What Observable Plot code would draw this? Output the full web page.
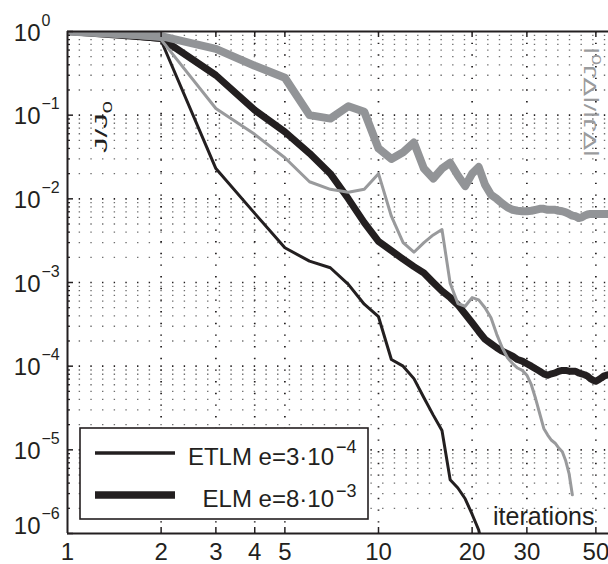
<!DOCTYPE html>
<html><head><meta charset="utf-8">
<script src="https://cdn.jsdelivr.net/npm/d3@7"></script>
<script src="https://cdn.jsdelivr.net/npm/@observablehq/plot@0.6"></script>
<style>body{margin:0;background:#fff} svg{display:block}</style>
</head><body><div id="chart"></div>
<script>
// ---- data ----
const iterations = [1,2,3,4,5,6,7,8,9,10,11,12,13,14,15,16,17,18,19,20,21,22,23,24,25,26,27,28,29,30,31,32,33,34,35,36,37,38,39,40,41,42,43,44,45,46,47,48,49,50,51,52,53,54,55];
// ETLM  J/J0 (thin black)
const etlmJ = [1, 0.78, 0.023, 0.0067, 0.0026, 0.0018, 0.0015, 0.00095, 0.00055, 0.00039, 0.00012, 0.0001, 0.000071, 0.000042, 0.000026, 0.000017, 0.0000044, 0.0000035, 0.0000026, 0.0000017, 0.0000011, 0.0000005];
// ELM  J/J0 (thick black)
const elmJ = [1, 0.83, 0.30, 0.115, 0.063, 0.035, 0.020, 0.010, 0.0052, 0.0031, 0.0024, 0.0019, 0.00155, 0.0013, 0.0010, 0.00079, 0.00066, 0.00054, 0.00042, 0.00033, 0.00026, 0.00021, 0.000186, 0.000166, 0.000151, 0.000141, 0.000132, 0.00012, 0.000115, 0.000107, 0.0001, 0.000093, 0.000087, 0.000081, 0.000078, 0.000081, 0.000083, 0.000087, 0.000089, 0.000089, 0.000087, 0.000087, 0.000087, 0.000083, 0.000081, 0.000079, 0.000076, 0.000071, 0.000068, 0.000066, 0.000069, 0.000072, 0.000076, 0.000078, 0.000079];
// ETLM |gradJ|/|gradJ0| (thin gray)
const etlmGrad = [1, 0.80, 0.12, 0.059, 0.031, 0.016, 0.013, 0.012, 0.013, 0.020, 0.0062, 0.0030, 0.0023, 0.0030, 0.0037, 0.0043, 0.00098, 0.00056, 0.00052, 0.00066, 0.00062, 0.0005, 0.00038, 0.00024, 0.000166, 0.000126, 0.000107, 0.000095, 0.000089, 0.000078, 0.00006, 0.000041, 0.000027, 0.000018, 0.000015, 0.000013, 0.000012, 0.0000105, 0.0000095, 0.0000074, 0.0000052, 0.0000029];
// ELM |gradJ|/|gradJ0| (thick gray)
const elmGrad = [1, 0.88, 0.62, 0.39, 0.28, 0.10, 0.091, 0.128, 0.11, 0.040, 0.030, 0.036, 0.047, 0.023, 0.0175, 0.023, 0.027, 0.019, 0.0142, 0.020, 0.024, 0.0148, 0.0112, 0.010, 0.0088, 0.0079, 0.0074, 0.0072, 0.0071, 0.0071, 0.0072, 0.0074, 0.0076, 0.0076, 0.0074, 0.0074, 0.0074, 0.0072, 0.0071, 0.0069, 0.0066, 0.0063, 0.0062, 0.0059, 0.006, 0.0063, 0.0065, 0.0066, 0.0066, 0.0066, 0.0066, 0.0066, 0.0066, 0.0066, 0.0066];

const xTicks = [1, 2, 3, 4, 5, 10, 20, 30, 50];
const xTickLabels = ["1", "2", "3", "4", "5", "10", "20", "30", "50"];
const yDecades = [1e-6, 1e-5, 1e-4, 1e-3, 1e-2, 1e-1, 1];
const yExponents = ["\u22126", "\u22125", "\u22124", "\u22123", "\u22122", "\u22121", "0"];
const legendNames = ["ETLM e=3\u00b710", "ELM e=8\u00b710"];
const legendExponents = ["\u22124", "\u22123"];

// ---- helpers ----
const rows = (vals) => vals.map((v, i) => ({n: iterations[i], v}));
const minorY = [];
for (const d of yDecades.slice(0, -1)) for (let k = 2; k <= 9; k++) minorY.push(d * k);
const inner = xTicks.slice(1);

const FONT = "Liberation Sans, Arial, Helvetica, sans-serif";
const INK = "#231f20";
const W = 608, H = 564, ML = 67, MR = 0, MT = 31, MB = 31;
const FW = W - ML - MR, FH = H - MT - MB;
const dots = "1.4,10.27";
// bottom y label is lifted so it sits on the axis line
const lift = (i) => (i === 0 ? -9 : 0);

const chart = Plot.plot({
  width: W, height: H,
  marginLeft: ML, marginRight: MR, marginTop: MT, marginBottom: MB,
  x: {type: "log", domain: [1, 54.9], axis: null},
  y: {type: "log", domain: [1e-6, 1], axis: null},
  style: {fontFamily: FONT, background: "white", overflow: "visible"},
  marks: [
    // grid
    Plot.ruleY(minorY, {y: d => d, stroke: "#6f6f6f", strokeWidth: 1.3, strokeDasharray: dots}),
    Plot.ruleY(yDecades.slice(1, -1), {y: d => d, stroke: INK, strokeWidth: 1.7, strokeDasharray: dots}),
    Plot.ruleX(inner, {x: d => d, stroke: INK, strokeWidth: 1.7, strokeDasharray: dots}),
    // series
    Plot.line(rows(etlmJ), {x: "n", y: "v", stroke: INK, strokeWidth: 3, strokeLinejoin: "round", clip: true}),
    Plot.line(rows(elmJ), {x: "n", y: "v", stroke: INK, strokeWidth: 7, strokeLinejoin: "round", clip: true}),
    Plot.line(rows(etlmGrad), {x: "n", y: "v", stroke: "#999a9c", strokeWidth: 3, strokeLinejoin: "round", clip: true}),
    Plot.line(rows(elmGrad), {x: "n", y: "v", stroke: "#929497", strokeWidth: 8, strokeLinejoin: "round", clip: true}),
    // ticks (inward)
    Plot.tickX(inner, {x: d => d, insetTop: FH - 6, stroke: INK, strokeWidth: 1.5}),
    Plot.tickX(inner, {x: d => d, insetBottom: FH - 6, stroke: INK, strokeWidth: 1.5}),
    Plot.tickY(yDecades, {y: d => d, insetRight: FW - 6, stroke: INK, strokeWidth: 1.5}),
    Plot.tickY(minorY, {y: d => d, insetRight: FW - 3, stroke: INK, strokeWidth: 1.3}),
    // axis lines
    Plot.ruleX([1], {x: d => d, stroke: INK, strokeWidth: 2}),
    Plot.ruleY([1e-6, 1], {y: d => d, stroke: INK, strokeWidth: 2}),
    // tick labels
    Plot.text(xTicks, {x: d => d, text: (d, i) => xTickLabels[i], frameAnchor: "bottom", dy: 26, lineAnchor: "bottom", fontSize: 24, fill: INK}),
    ...yDecades.map((d, i) => Plot.text([d], {y: v => v, text: () => "10", frameAnchor: "left", dx: -27, dy: 9 + lift(i), textAnchor: "end", lineAnchor: "bottom", fontSize: 24, fill: INK})),
    ...yDecades.map((d, i) => Plot.text([d], {y: v => v, text: () => yExponents[i], frameAnchor: "left", dx: -26, dy: -6 + lift(i), textAnchor: "start", lineAnchor: "bottom", fontSize: 16, fill: INK}))
  ]
});
document.getElementById("chart").appendChild(chart);

// ---- annotations: labels and legend ----
const svg = d3.select(chart);
const g = svg.append("g").attr("font-family", FONT).attr("text-anchor", "start");

// left label J/J0
const lt = g.append("text").attr("transform", "translate(107,153) rotate(-90)")
  .attr("text-anchor", "start").attr("font-size", 17).attr("fill", INK)
  .attr("textLength", 52).attr("lengthAdjust", "spacingAndGlyphs");
lt.append("tspan").text("J/J");
lt.append("tspan").attr("dy", 5).attr("font-size", 12).text("0");

// right label |∇J|/|∇J0|
const rt = g.append("text").attr("transform", "translate(596,157) rotate(-90)")
  .attr("text-anchor", "start").attr("font-size", 17).attr("fill", "#9a9b9d")
  .attr("textLength", 110).attr("lengthAdjust", "spacingAndGlyphs");
rt.append("tspan").text("|\u2207J|/|\u2207J");
rt.append("tspan").attr("dy", 5).attr("font-size", 12).text("0");
rt.append("tspan").attr("dy", -5).text("|");

// x-axis label
g.append("text").attr("x", 493).attr("y", 525).attr("text-anchor", "start")
  .attr("font-size", 25).attr("fill", INK).text("iterations");

// legend
const lg = g.append("g");
lg.append("rect").attr("x", 80).attr("y", 428).attr("width", 288).attr("height", 91)
  .attr("fill", "white").attr("stroke", INK).attr("stroke-width", 1.6);
const rowsY = [453, 495], widths = [3.6, 7.5], baseY = [465, 507], expY = [453, 497];
legendNames.forEach((name, i) => {
  lg.append("line").attr("x1", 95).attr("x2", 175).attr("y1", rowsY[i]).attr("y2", rowsY[i])
    .attr("stroke", INK).attr("stroke-width", widths[i]);
  lg.append("text").attr("x", 334).attr("y", baseY[i]).attr("text-anchor", "end")
    .attr("font-size", 24).attr("fill", INK).text(name);
  lg.append("text").attr("x", 336).attr("y", expY[i]).attr("text-anchor", "start")
    .attr("font-size", 18).attr("fill", INK).text(legendExponents[i]);
});
</script>
</body></html>
